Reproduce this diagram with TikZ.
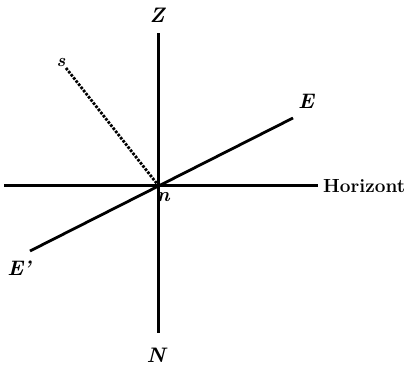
\documentclass[tikz,border=0pt]{standalone}
\usepackage{fontspec}
\begin{document}
\begin{tikzpicture}[x=1pt,y=-1pt,
  axis/.style={line width=3pt},
  lab/.style={font=\fontsize{21}{21}\selectfont\bfseries\itshape,inner sep=0pt},
  hlab/.style={font=\fontsize{19}{19}\selectfont\bfseries,inner sep=0pt,anchor=west}]
\useasboundingbox (0,0) rectangle (409,367);
\coordinate (O) at (158,185);
\coordinate (T) at (158,33);
\coordinate (B) at (158,333);
\coordinate (L) at (4,185);
\coordinate (R) at (318,185);
\coordinate (E1) at (293,118);
\coordinate (E2) at (30,251);
\coordinate (S) at (66,68);
\node[lab] (z) at (157,15) {Z};
\node[lab] (nn) at (156,355) {N};
\node[lab] (e) at (306,101) {E};
\node[lab] (ep) at (19,268) {E'};
\node[lab,font=\fontsize{18}{18}\selectfont\bfseries\itshape] (s) at (61,63) {s};
\node[lab,font=\fontsize{20}{20}\selectfont\bfseries\itshape] (n) at (163,197) {n};
\node[hlab] (h) at (323,186) {Horizont};
\draw[axis] (T) -- (B);
\draw[axis] (L) -- (R);
\draw[line width=2.8pt] (E2) -- (E1);
\draw[line width=2.8pt,dash pattern=on 2.6pt off 1.4pt] (S) -- (O);
\end{tikzpicture}
\end{document}
